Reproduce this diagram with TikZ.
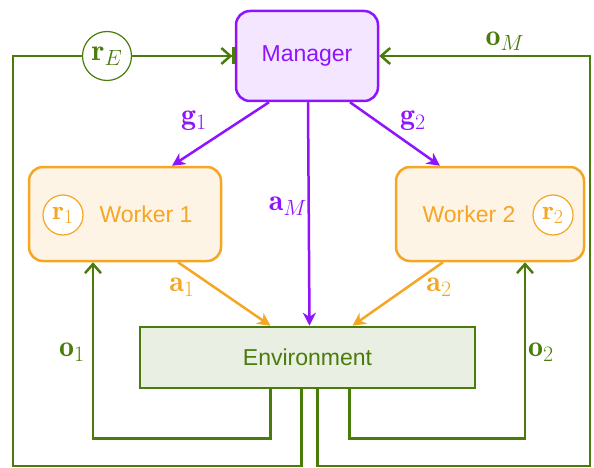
\documentclass[tikz,border=0pt]{standalone}
\usepackage{fix-cm}
\usepackage{fontspec}
\newfontfamily\boxfont{Liberation Sans}
\DeclareMathSizes{30}{30}{22}{16}
\DeclareMathSizes{27}{27}{20}{15}
\usetikzlibrary{arrows.meta,calc}
\definecolor{pur}{HTML}{9013FE}
\definecolor{purfill}{HTML}{F3E6FE}
\definecolor{ora}{HTML}{F5A623}
\definecolor{orafill}{HTML}{FEF4E6}
\definecolor{grn}{HTML}{4A7C0C}
\definecolor{grnfill}{HTML}{E9EFE2}
\begin{document}
\begin{tikzpicture}[x=1pt,y=-1pt,
  boxtext/.style={font=\boxfont\fontsize{23}{23}\selectfont},
  mgrbox/.style={draw=pur,fill=purfill,text=pur,line width=2.5pt,rounded corners=14pt,minimum width=142pt,minimum height=90pt,boxtext},
  wbox/.style={draw=ora,fill=orafill,text=ora,line width=2.5pt,rounded corners=14pt,minimum height=94pt,boxtext},
  envbox/.style={draw=grn,fill=grnfill,text=grn,line width=2.5pt,minimum width=335pt,minimum height=61pt,boxtext},
  rcirc/.style={circle,draw,line width=1.2pt,fill=white,inner sep=0pt},
  lbl/.style={font=\fontsize{30}{30}\selectfont,inner sep=1pt},
  parr/.style={draw=pur,line width=2.5pt,-{Stealth[length=13pt,width=13pt,inset=4pt]}},
  oarr/.style={draw=ora,line width=2.5pt,-{Stealth[length=13pt,width=13pt,inset=4pt]}},
  garr/.style={draw=grn,line width=2.5pt,-{Straight Barb[length=9pt,width=16pt,line width=2.5pt]}},
  gline/.style={draw=grn,line width=2.5pt}
]
\useasboundingbox (0,0) rectangle (594,468);

\node[mgrbox] (M) at (307,56) {Manager};
\node[wbox,minimum width=192pt] (W1) at (125,214) {\hspace*{42pt}Worker 1};
\node[wbox,minimum width=188pt] (W2) at (490,214) {Worker 2\hspace*{42pt}};
\node[envbox] (Env) at (307.5,357.5) {Environment};

\node[rcirc,draw=ora,minimum size=40pt,text=ora] (r1) at (63,215) {\fontsize{27}{27}\selectfont$\mathbf{r}_1$};
\node[rcirc,draw=ora,minimum size=40pt,text=ora] (r2) at (553,215) {\fontsize{27}{27}\selectfont$\mathbf{r}_2$};

\coordinate (BL) at (13,466);
\coordinate (BR) at (590,466);

% green outer loops
\node[rcirc,draw=grn,minimum size=49pt,text=grn] (rE) at (107,56) {\fontsize{30}{30}\selectfont$\mathbf{r}_E$};
\draw[gline] ($(Env.south)+(-6,0)$) |- (BL) |- (rE.west);
\draw[gline,-{Straight Barb[length=9pt,width=16pt,line width=2.5pt]Bar[width=17pt,line width=2.5pt,sep=0pt]}] (rE.east) -- (M.west);
\draw[garr] ($(Env.south)+(10,0)$) |- (BR) |- (M.east);

% worker observation loops
\draw[garr] ($(Env.south)+(-37,0)$) -- ++(0,49) -| ($(W1.south)+(-32,0)$);
\draw[garr] ($(Env.south)+(42,0)$) -- ++(0,49) -| ($(W2.south)+(35,0)$);

% manager arrows
\draw[parr] ($(M.south)+(-38,0)$) -- ($(W1.north)+(47,0)$);
\draw[parr] ($(M.south)+(43,0)$) -- ($(W2.north)+(-50,0)$);
\draw[parr] ($(M.south)+(1,0)$) -- ($(Env.north)+(2,0)$);

% worker actions
\draw[oarr] ($(W1.south)+(53,0)$) -- ($(Env.north)+(-37,0)$);
\draw[oarr] ($(W2.south)+(-47,0)$) -- ($(Env.north)+(45,0)$);

% labels
\node[lbl,text=pur] (g1) at (194,121) {$\mathbf{g}_1$};
\node[lbl,text=pur] (g2) at (413,121) {$\mathbf{g}_2$};
\node[lbl,text=pur] (aM) at (288,206) {$\mathbf{a}_M$};
\node[lbl,text=ora] (a1) at (182,287) {$\mathbf{a}_1$};
\node[lbl,text=ora] (a2) at (439,287) {$\mathbf{a}_2$};
\node[lbl,text=grn] (o1) at (72,352) {$\mathbf{o}_1$};
\node[lbl,text=grn] (o2) at (541,352) {$\mathbf{o}_2$};
\node[lbl,text=grn] (oM) at (505,41) {$\mathbf{o}_M$};
\end{tikzpicture}
\end{document}
